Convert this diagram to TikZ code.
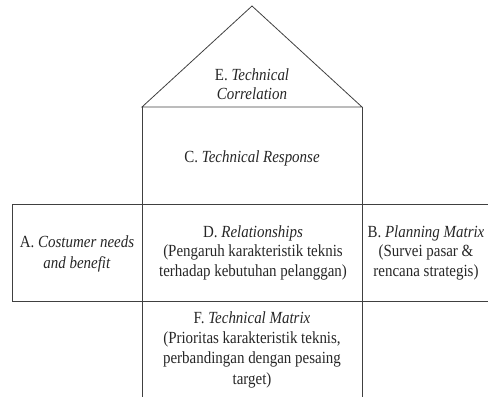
\documentclass[tikz,border=0pt]{standalone}
\usepackage{fontspec}
\setmainfont{Liberation Serif}[FakeStretch=0.88]
\begin{document}
\begin{tikzpicture}[x=1pt,y=-1pt,
  frame/.style={draw=black!75,line width=0.8pt},
  label/.style={text=black!85,align=center,inner sep=0pt,font=\fontsize{17}{19.5}\selectfont}]
\useasboundingbox (0,0) rectangle (488,397);
% roof and central column
\draw[frame] (142,107) -- (252,6) -- (362,107) -- cycle;
\draw[frame] (142,107) -- (142,397);
\draw[frame] (362,107) -- (362,397);
% middle row
\draw[frame] (488,204) -- (12,204) -- (12,301) -- (488,301);
% texts
\node[label] (E) at (252,84) {E. \textit{Technical}\\\textit{Correlation}};
\node[label] (C) at (252,158) {C. \textit{Technical Response}};
\node[label,font=\fontsize{17}{20.5}\selectfont] (A) at (77,254) {A. \textit{Costumer needs}\\\textit{and benefit}};
\node[label] (D) at (253,252.5) {D. \textit{Relationships}\\(Pengaruh karakteristik teknis\\terhadap kebutuhan pelanggan)};
\node[label] (B) at (426,252.5) {B. \textit{Planning Matrix}\\(Survei pasar \&\\rencana strategis)};
\node[label,font=\fontsize{17}{20.3}\selectfont] (F) at (252,349.5) {F. \textit{Technical Matrix}\\(Prioritas karakteristik teknis,\\perbandingan dengan pesaing\\target)};
\end{tikzpicture}
\end{document}
